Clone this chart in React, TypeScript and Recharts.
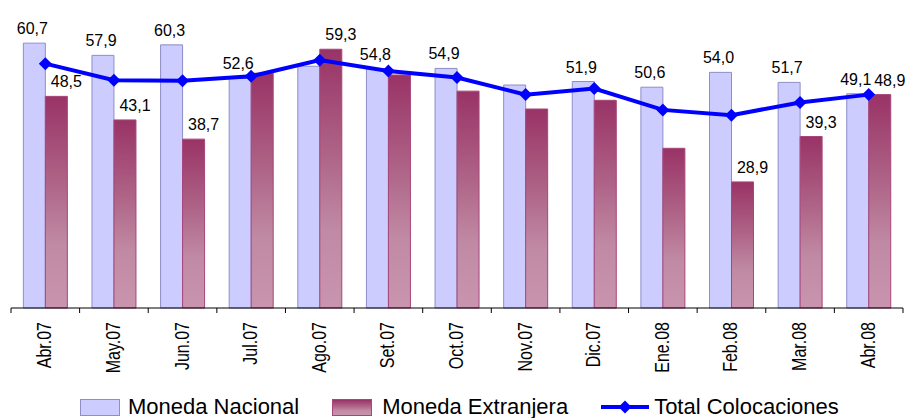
import React from 'react';
import { ComposedChart, Bar, Line, XAxis, YAxis, Legend, LabelList } from 'recharts';

const meses = ['Abr.07', 'May.07', 'Jun.07', 'Jul.07', 'Ago.07', 'Set.07', 'Oct.07', 'Nov.07', 'Dic.07', 'Ene.08', 'Feb.08', 'Mar.08', 'Abr.08'];
const monedaNacional = [60.7, 57.9, 60.3, 52.6, 55.4, 54.8, 54.9, 51.1, 51.9, 50.6, 54.0, 51.7, 49.1];
const monedaExtranjera = [48.5, 43.1, 38.7, 53.8, 59.3, 53.4, 49.7, 45.6, 47.6, 36.6, 28.9, 39.3, 48.9];
const totalColocaciones = [56.0, 52.2, 52.1, 53.1, 56.8, 54.3, 52.8, 48.9, 50.3, 45.4, 44.2, 47.1, 48.9];
// which bars carry a value label in the original
const etiquetaNacional = [true, true, true, true, false, true, true, false, true, true, true, true, true];
const etiquetaExtranjera = [true, true, true, false, true, false, false, false, false, false, true, true, true];

const data = meses.map((mes, i) => ({
  mes,
  nacional: monedaNacional[i],
  extranjera: monedaExtranjera[i],
  total: totalColocaciones[i],
}));

const WIDTH = 907;
const HEIGHT = 418;
const MARGIN = { top: 20, right: 4, left: 11, bottom: 0 };
const BAND = (WIDTH - MARGIN.left - MARGIN.right) / meses.length;
const FONT = '"Liberation Sans", Arial, sans-serif';

const fmt = (v: number) => v.toFixed(1).replace('.', ',');

// dx: the foreign-currency labels sit a little right of their bars
function makeLabel(flags: boolean[], dx: number) {
  return (props: any) => {
    const { x, y, width, value, index } = props;
    if (!flags[index]) return null;
    return (
      <text x={x + width / 2 + dx} y={y - 9} textAnchor="middle" fontSize={16} fontFamily={FONT} fill="#000">
        {fmt(value)}
      </text>
    );
  };
}

function MonthTick({ x, y, payload, index }: any) {
  const left = x - BAND / 2;
  return (
    <g>
      <line x1={left} y1={y} x2={left} y2={y + 5} stroke="#000" strokeWidth={1} />
      {index === meses.length - 1 && (
        <line x1={x + BAND / 2} y1={y} x2={x + BAND / 2} y2={y + 5} stroke="#000" strokeWidth={1} />
      )}
      <text
        transform={`translate(${x + 6},${y + 14}) rotate(-90) scale(0.8,1)`}
        textAnchor="end"
        fontSize={20}
        fontFamily={FONT}
        fill="#000"
      >
        {payload.value}
      </text>
    </g>
  );
}

function Diamond({ cx, cy }: any) {
  if (cx == null || cy == null) return null;
  const r = 6.5;
  return <polygon points={`${cx},${cy - r} ${cx + r},${cy} ${cx},${cy + r} ${cx - r},${cy}`} fill="#0000FF" />;
}

function LegendBox() {
  const text: React.CSSProperties = { fontSize: 22, fontFamily: FONT, color: '#000', lineHeight: '22px' };
  return (
    <div style={{ display: 'flex', alignItems: 'center', height: 28, paddingLeft: 80, paddingTop: 6, boxSizing: 'border-box' }}>
      <div style={{ width: 40, height: 17, background: '#CCCCFF', border: '1px solid #8E8EC8', boxSizing: 'border-box' }} />
      <span style={{ ...text, marginLeft: 8 }}>Moneda Nacional</span>
      <div
        style={{
          width: 40,
          height: 17,
          marginLeft: 33,
          background: 'linear-gradient(#993366, #AE6386 40%, #C08AA4 70%, #C994AE)',
          border: '1px solid #A8457A',
          boxSizing: 'border-box',
        }}
      />
      <span style={{ ...text, marginLeft: 10 }}>Moneda Extranjera</span>
      <svg width={48} height={16} style={{ marginLeft: 33 }}>
        <line x1={0} y1={8} x2={48} y2={8} stroke="#0000FF" strokeWidth={4} />
        <polygon points="24,1.5 30.5,8 24,14.5 17.5,8" fill="#0000FF" />
      </svg>
      <span style={{ ...text, marginLeft: 5 }}>Total Colocaciones</span>
    </div>
  );
}

export default function App() {
  return (
    <div style={{ position: 'absolute', left: 0, top: 0, width: WIDTH, height: HEIGHT, overflow: 'hidden', background: '#fff' }}>
      <div
        style={{
          position: 'absolute',
          left: 218,
          top: -26,
          fontSize: 22.5,
          fontWeight: 'bold',
          fontFamily: FONT,
          lineHeight: '26px',
          whiteSpace: 'nowrap',
        }}
      >
        (Variación anual promedio de los saldos)
      </div>
      <ComposedChart width={WIDTH} height={HEIGHT} data={data} margin={MARGIN} barCategoryGap="18%" barGap={0}>
        <defs>
          <linearGradient id="gradExt" x1="0" y1="0" x2="0" y2="1">
            <stop offset="0%" stopColor="#993366" />
            <stop offset="40%" stopColor="#AE6386" />
            <stop offset="70%" stopColor="#C08AA4" />
            <stop offset="100%" stopColor="#C994AE" />
          </linearGradient>
        </defs>
        <XAxis
          dataKey="mes"
          interval={0}
          height={82}
          tickSize={0}
          tickMargin={0}
          tickLine={false}
          axisLine={{ stroke: '#000', strokeWidth: 1.2 }}
          tick={<MonthTick />}
        />
        <YAxis hide domain={[0, 66]} />
        <Legend verticalAlign="bottom" content={<LegendBox />} wrapperStyle={{ left: 0, bottom: 0, width: WIDTH, height: 28 }} />
        <Bar dataKey="nacional" name="Moneda Nacional" fill="#CCCCFF" stroke="#8E8EC8" strokeWidth={1} isAnimationActive={false}>
          <LabelList dataKey="nacional" content={makeLabel(etiquetaNacional, -2)} />
        </Bar>
        <Bar dataKey="extranjera" name="Moneda Extranjera" fill="url(#gradExt)" stroke="#A8457A" strokeWidth={1} isAnimationActive={false}>
          <LabelList dataKey="extranjera" content={makeLabel(etiquetaExtranjera, 10)} />
        </Bar>
        <Line
          type="linear"
          dataKey="total"
          name="Total Colocaciones"
          stroke="#0000FF"
          strokeWidth={4}
          dot={<Diamond />}
          activeDot={false}
          isAnimationActive={false}
        />
      </ComposedChart>
    </div>
  );
}
